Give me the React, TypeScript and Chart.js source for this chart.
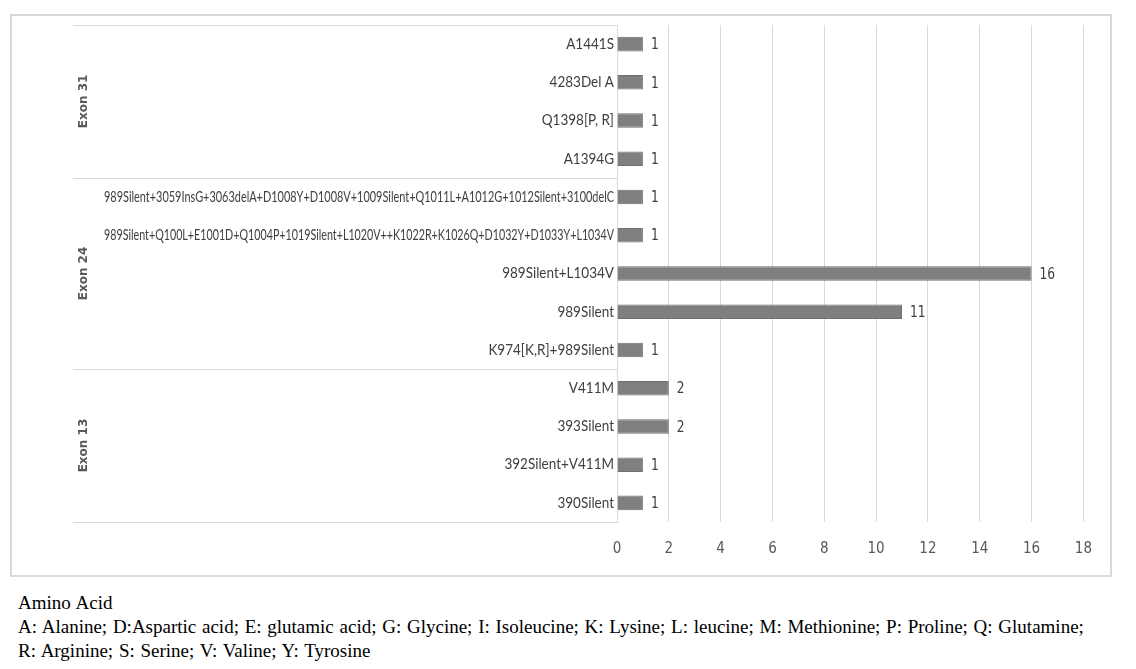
import React, { useEffect, useRef } from 'react';
import { Chart, registerables } from 'chart.js';

Chart.register(...registerables);

const mutations: string[] = [
  'A1441S',
  '4283Del A',
  'Q1398[P, R]',
  'A1394G',
  '989Silent+3059InsG+3063delA+D1008Y+D1008V+1009Silent+Q1011L+A1012G+1012Silent+3100delC',
  '989Silent+Q100L+E1001D+Q1004P+1019Silent+L1020V++K1022R+K1026Q+D1032Y+D1033Y+L1034V',
  '989Silent+L1034V',
  '989Silent',
  'K974[K,R]+989Silent',
  'V411M',
  '393Silent',
  '392Silent+V411M',
  '390Silent',
];
const counts: number[] = [1, 1, 1, 1, 1, 1, 16, 11, 1, 2, 2, 1, 1];
const exonNames: string[] = ['Exon 31', 'Exon 24', 'Exon 13'];
const exonSizes: number[] = [4, 5, 4];
const xMax = 18;
const xStep = 2;

const noteTitle = 'Amino Acid';
const noteLines: string[] = [
  'A: Alanine; D:Aspartic acid; E: glutamic acid; G: Glycine; I: Isoleucine; K: Lysine; L: leucine; M: Methionine; P: Proline; Q: Glutamine;',
  'R: Arginine; S: Serine; V: Valine; Y: Tyrosine',
];

const NARROW = '"DejaVu Sans Condensed", "Liberation Sans", sans-serif';
const LABEL_FONT = '15px Lato, "Liberation Sans", sans-serif';
const LABEL_SCALE = 0.9;
const LABEL_MAX_PX = 510;

const groupPlugin = {
  id: 'exonGroups',
  afterDraw(chart: any) {
    const ctx = chart.ctx;
    const y = chart.scales.y;
    const half = (y.getPixelForValue(1) - y.getPixelForValue(0)) / 2;
    const x0 = 61;
    const x1 = chart.chartArea.left;
    ctx.save();
    ctx.strokeStyle = '#d9d9d9';
    ctx.lineWidth = 1;
    let start = 0;
    const top0 = y.getPixelForValue(0) - half;
    ctx.beginPath();
    ctx.moveTo(x0, Math.round(top0) + 0.5);
    ctx.lineTo(x1, Math.round(top0) + 0.5);
    ctx.stroke();
    exonSizes.forEach((n, gi) => {
      const top = y.getPixelForValue(start) - half;
      const bot = y.getPixelForValue(start + n - 1) + half;
      ctx.beginPath();
      ctx.moveTo(x0, Math.round(bot) + 0.5);
      ctx.lineTo(x1, Math.round(bot) + 0.5);
      ctx.stroke();
      ctx.save();
      ctx.translate(72, (top + bot) / 2);
      ctx.rotate(-Math.PI / 2);
      ctx.fillStyle = '#595959';
      ctx.font = 'bold 12px "DejaVu Sans", sans-serif';
      ctx.textAlign = 'center';
      ctx.textBaseline = 'middle';
      ctx.fillText(exonNames[gi], 0, 0);
      ctx.restore();
      start += n;
    });
    ctx.restore();
  },
};

// draws the category axis labels in a condensed style
const narrowLabelPlugin = {
  id: 'narrowLabels',
  afterDraw(chart: any) {
    const ctx = chart.ctx;
    const y = chart.scales.y;
    ctx.save();
    ctx.font = LABEL_FONT;
    const labels: string[] = y.getLabels();
    ctx.fillStyle = '#404040';
    ctx.textAlign = 'right';
    ctx.textBaseline = 'middle';
    labels.forEach((l, i) => {
      const w = ctx.measureText(l).width;
      const sx = Math.min(LABEL_SCALE, LABEL_MAX_PX / w);
      const py = y.getPixelForValue(i);
      ctx.save();
      ctx.translate(chart.chartArea.left - 3, py);
      ctx.scale(sx, 1);
      ctx.fillText(l, 0, 0);
      ctx.restore();
    });
    ctx.restore();
  },
};

const valuePlugin = {
  id: 'valueLabels',
  afterDatasetsDraw(chart: any) {
    const ctx = chart.ctx;
    const meta = chart.getDatasetMeta(0);
    ctx.save();
    ctx.fillStyle = '#404040';
    ctx.font = `16px ${NARROW}`;
    ctx.textAlign = 'left';
    ctx.textBaseline = 'middle';
    meta.data.forEach((bar: any, i: number) => {
      ctx.save();
      ctx.translate(bar.x + 8, bar.y + 1);
      ctx.scale(0.85, 1);
      ctx.fillText(String(counts[i]), 0, 0);
      ctx.restore();
    });
    ctx.restore();
  },
};

function BarChart() {
  const ref = useRef<HTMLCanvasElement | null>(null);
  useEffect(() => {
    if (!ref.current) return;
    const chart = new Chart(ref.current, {
      type: 'bar',
      data: {
        labels: mutations,
        datasets: [
          {
            data: counts,
            backgroundColor: '#7f7f7f',
            borderColor: '#6f6f6f',
            borderWidth: 1,
            categoryPercentage: 1,
            barPercentage: 0.38,
          },
        ],
      },
      options: {
        indexAxis: 'y',
        animation: false,
        responsive: true,
        maintainAspectRatio: false,
        layout: { padding: { left: 0, top: 9, right: 23, bottom: 0 } },
        plugins: {
          legend: { display: false },
          tooltip: { enabled: false },
        },
        scales: {
          x: {
            min: 0,
            max: xMax,
            ticks: {
              stepSize: xStep,
              color: '#595959',
              padding: 18,
              font: { family: NARROW, size: 15 },
            },
            grid: { color: '#d9d9d9', drawTicks: false },
            border: { display: false },
            afterFit(scale: any) {
              scale.height = 53;
            },
          },
          y: {
            ticks: { display: false, autoSkip: false },
            grid: { display: false, drawTicks: false },
            border: { display: true, color: '#d9d9d9' },
            afterFit(scale: any) {
              scale.width = 605;
            },
          },
        },
      },
      plugins: [groupPlugin, narrowLabelPlugin, valuePlugin],
    });
    return () => chart.destroy();
  }, []);
  return (
    <div style={{ position: 'relative', width: 1098, height: 559 }}>
      <canvas ref={ref} />
    </div>
  );
}

export default function App() {
  return (
    <div style={{ paddingTop: 6, paddingLeft: 2 }}>
      <div
        style={{
          width: 1102,
          height: 563,
          boxSizing: 'border-box',
          border: '2px solid #d9d9d9',
          background: '#fff',
        }}
      >
        <BarChart />
      </div>
      <div
        style={{
          fontFamily: '"Liberation Serif", "Times New Roman", serif',
          fontSize: 19,
          lineHeight: '24px',
          wordSpacing: 1,
          color: '#000',
          paddingLeft: 8,
          paddingTop: 14,
        }}
      >
        <div>{noteTitle}</div>
        {noteLines.map((l, i) => (
          <div key={i}>{l}</div>
        ))}
      </div>
    </div>
  );
}
